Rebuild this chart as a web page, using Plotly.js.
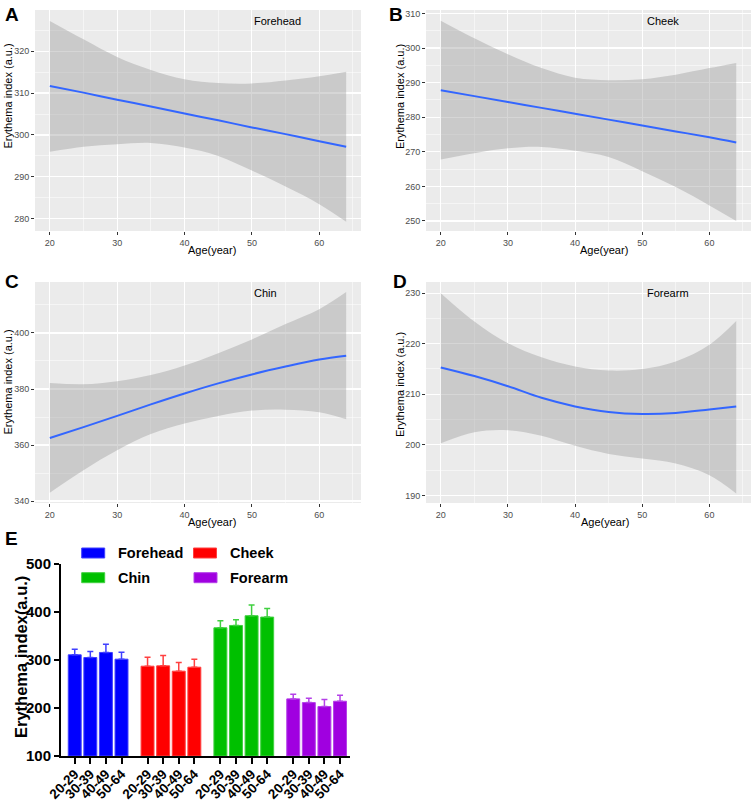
<!DOCTYPE html>
<html>
<head>
<meta charset="utf-8">
<script src="https://cdn.plot.ly/plotly-3.0.1.min.js"></script>
<style>html,body{margin:0;padding:0;background:#fff;}#chart{width:753px;height:801px;}</style>
</head>
<body>
<div id="chart"></div>
<script>
// ---------- Panels A-D: smoothed fits with 95% CI ----------
const ageA = [20, 25, 30, 35, 40, 45, 50, 55, 60, 64];
const fitA = [311.7, 310.1, 308.4, 306.8, 305.1, 303.5, 301.8, 300.2, 298.5, 297.2];
const upA  = [327.2, 322.8, 318.6, 315.5, 313.3, 312.4, 312.3, 313.0, 314.0, 315.1];
const loA  = [296.0, 297.2, 297.8, 298.1, 297.0, 295.0, 291.5, 287.7, 283.5, 279.3];

const ageB = [20, 25, 30, 35, 40, 45, 50, 55, 60, 64];
const fitB = [287.8, 286.1, 284.4, 282.7, 281.0, 279.3, 277.6, 275.9, 274.2, 272.7];
const upB  = [307.9, 302.8, 298.2, 294.2, 291.4, 290.7, 291.0, 292.3, 294.2, 295.7];
const loB  = [267.8, 269.6, 271.0, 271.4, 270.3, 268.5, 264.4, 259.8, 254.5, 250.0];

const ageC = [20, 25, 30, 35, 40, 45, 50, 55, 60, 64];
const fitC = [362.5, 366.4, 370.4, 374.5, 378.4, 382.0, 385.2, 388.0, 390.5, 391.9];
const upC  = [382.1, 381.7, 382.8, 385.0, 388.4, 392.8, 397.7, 403.2, 408.5, 414.6];
const loC  = [343.0, 351.0, 358.1, 363.9, 367.7, 370.4, 372.3, 372.6, 371.7, 369.2];

const ageD = [20, 25, 30, 35, 40, 45, 50, 55, 60, 64];
const fitD = [215.3, 213.6, 211.6, 209.3, 207.6, 206.5, 206.1, 206.3, 207.0, 207.6];
const upD  = [230.0, 224.4, 220.1, 217.3, 215.5, 214.7, 215.0, 216.5, 219.8, 224.5];
const loD  = [200.3, 202.5, 202.9, 201.8, 199.8, 198.2, 197.3, 196.3, 194.0, 190.4];

// ---------- Panel E: bar chart ----------
const ageGroups = ['20-29', '30-39', '40-49', '50-64'];
const sites = ['Forehead', 'Cheek', 'Chin', 'Forearm'];
const meanForehead = [310.8, 305.2, 315.7, 301.7];
const errForehead  = [11.8, 12.5, 17.3, 14.6];
const meanCheek    = [287.1, 287.8, 276.7, 285.0];
const errCheek     = [18.8, 21.6, 18.1, 16.7];
const meanChin     = [367.1, 372.0, 392.2, 389.4];
const errChin      = [14.6, 11.8, 22.2, 18.1];
const meanForearm  = [219.0, 211.3, 203.0, 214.1];
const errForearm   = [9.7, 9.0, 14.6, 12.5];

const siteColors = ['#0000FF', '#FF0000', '#00C000', '#A000E0'];
const siteEdge   = ['#4040FF', '#FF4040', '#40D040', '#B440E8'];

const W = 753, H = 801;
const px = x => x / W;
const py = y => 1 - y / H;

const ribbonFill = 'rgba(153,153,153,0.4)';
const lineBlue = '#3366FF';
const FONT = 'Liberation Sans, Arial, sans-serif';

const traces = [];
function addPanel(ages, fit, up, lo, xa, ya) {
  traces.push({x: ages, y: lo, xaxis: xa, yaxis: ya, mode: 'lines', line: {width: 0, shape: 'spline'}, hoverinfo: 'skip', showlegend: false});
  traces.push({x: ages, y: up, xaxis: xa, yaxis: ya, mode: 'lines', fill: 'tonexty', fillcolor: ribbonFill, line: {width: 0, shape: 'spline'}, hoverinfo: 'skip', showlegend: false});
  traces.push({x: ages, y: fit, xaxis: xa, yaxis: ya, mode: 'lines', line: {color: lineBlue, width: 2, shape: 'spline'}, showlegend: false});
}
addPanel(ageA, fitA, upA, loA, 'x', 'y');
addPanel(ageB, fitB, upB, loB, 'x2', 'y2');
addPanel(ageC, fitC, upC, loC, 'x3', 'y3');
addPanel(ageD, fitD, upD, loD, 'x4', 'y4');

const means = [meanForehead, meanCheek, meanChin, meanForearm];
const errs = [errForehead, errCheek, errChin, errForearm];
const groupStep = 4.67;
const tickPos = [], tickTxt = [];
sites.forEach((s, g) => {
  const xs = ageGroups.map((a, i) => g * groupStep + i);
  xs.forEach((v, i) => { tickPos.push(v); tickTxt.push(ageGroups[i]); });
  traces.push({
    type: 'bar', x: xs, y: means[g].map(v => v - 100), base: 100, xaxis: 'x5', yaxis: 'y5',
    width: 0.83, name: s, showlegend: false,
    marker: {color: siteColors[g], line: {color: siteEdge[g], width: 1}},
    error_y: {type: 'data', symmetric: false, array: errs[g], arrayminus: errs[g].map(() => 0), color: siteEdge[g], thickness: 1.5, width: 3}
  });
});

function ggX(dom) {
  return {domain: dom, range: [17.8, 66.2], tickvals: [20, 30, 40, 50, 60], showgrid: true, gridcolor: '#FFFFFF', gridwidth: 1.1,
    minor: {tickvals: [15, 25, 35, 45, 55, 65], showgrid: true, gridcolor: '#FFFFFF', gridwidth: 0.5, ticks: ''},
    ticks: 'outside', ticklen: 3, tickcolor: '#333333', tickwidth: 1, tickfont: {family: FONT, size: 9, color: '#4D4D4D'},
    zeroline: false, showline: false, fixedrange: true};
}
function ggY(dom, range, major, minor) {
  return {domain: dom, range: range, tickvals: major, showgrid: true, gridcolor: '#FFFFFF', gridwidth: 1.1,
    minor: {tickvals: minor, showgrid: true, gridcolor: '#FFFFFF', gridwidth: 0.5, ticks: ''},
    ticks: 'outside', ticklen: 3, tickcolor: '#333333', tickwidth: 1, tickfont: {family: FONT, size: 9, color: '#4D4D4D'},
    zeroline: false, showline: false, fixedrange: true};
}

const domXL = [px(35), px(361)], domXR = [px(426), px(751)];
const domYT = [py(231), py(10)], domYM = [py(503), py(282)];

const ann = [];
function txt(x, y, t, size, opts) {
  ann.push(Object.assign({xref: 'paper', yref: 'paper', x: px(x), y: py(y), text: t, showarrow: false,
    xanchor: 'center', yanchor: 'middle', font: {family: FONT, size: size, color: '#000'}}, opts || {}));
}
// panel letters
txt(3, 14, '<b>A</b>', 19, {xanchor: 'left'});
txt(387, 14, '<b>B</b>', 19, {xanchor: 'left'});
txt(3, 281, '<b>C</b>', 19, {xanchor: 'left'});
txt(391, 281, '<b>D</b>', 19, {xanchor: 'left'});
txt(3, 538, '<b>E</b>', 19, {xanchor: 'left'});
// panel site labels
txt(252, 21.5, 'Forehead', 11, {xanchor: 'left'});
txt(645, 21.5, 'Cheek', 11, {xanchor: 'left'});
txt(252, 293, 'Chin', 11, {xanchor: 'left'});
txt(645, 293, 'Forearm', 11, {xanchor: 'left'});
// axis titles
txt(212, 249.5, 'Age(year)', 11);
txt(604, 249.5, 'Age(year)', 11);
txt(212, 522, 'Age(year)', 11);
txt(604.5, 522, 'Age(year)', 11);
txt(7.5, 96, 'Erythema index (a.u.)', 11, {textangle: -90});
txt(400, 97, 'Erythema index (a.u.)', 11, {textangle: -90});
txt(7.5, 382, 'Erythema index (a.u.)', 11, {textangle: -90});
txt(400, 385, 'Erythema index (a.u.)', 11, {textangle: -90});
txt(21, 657, '<b>Erythema index(a.u.)</b>', 16.5, {textangle: -90});

// grey panel backgrounds for ggplot panels A-D
const shapes = [];
[['x', 'y'], ['x2', 'y2'], ['x3', 'y3'], ['x4', 'y4']].forEach(([xa, ya]) => {
  shapes.push({type: 'rect', xref: xa + ' domain', yref: ya + ' domain', x0: 0, x1: 1, y0: 0, y1: 1,
    fillcolor: '#EBEBEB', line: {width: 0}, layer: 'below'});
});
// legend for panel E
const legendPos = [[81.7, 553], [193.5, 553], [81.7, 577.7], [194, 577.7]];
sites.forEach((s, g) => {
  const [lx, ly] = legendPos[g];
  shapes.push({type: 'rect', xref: 'paper', yref: 'paper', x0: px(lx), x1: px(lx + 23), y0: py(ly + 5), y1: py(ly - 5),
    fillcolor: siteColors[g], line: {color: siteEdge[g], width: 1}});
  txt(lx + 34, ly, '<b>' + s + '</b>', 14.5, {xanchor: 'left'});
});

const layout = {
  width: W, height: H, margin: {l: 0, r: 0, t: 0, b: 0}, paper_bgcolor: '#FFFFFF', plot_bgcolor: 'rgba(0,0,0,0)',
  showlegend: false, font: {family: FONT},
  xaxis: Object.assign(ggX(domXL), {anchor: 'y'}),
  yaxis: Object.assign(ggY(domYT, [277.1, 329.8], [280, 290, 300, 310, 320], [275, 285, 295, 305, 315, 325]), {anchor: 'x'}),
  xaxis2: Object.assign(ggX(domXR), {anchor: 'y2'}),
  yaxis2: Object.assign(ggY(domYT, [247.1, 311], [250, 260, 270, 280, 290, 300, 310], [255, 265, 275, 285, 295, 305]), {anchor: 'x2'}),
  xaxis3: Object.assign(ggX(domXL), {anchor: 'y3'}),
  yaxis3: Object.assign(ggY(domYM, [339.3, 418.2], [340, 360, 380, 400], [350, 370, 390, 410]), {anchor: 'x3'}),
  xaxis4: Object.assign(ggX(domXR), {anchor: 'y4'}),
  yaxis4: Object.assign(ggY(domYM, [188.5, 232.2], [190, 200, 210, 220, 230], [195, 205, 215, 225]), {anchor: 'x4'}),
  xaxis5: {domain: [px(61), px(350)], anchor: 'y5', range: [-0.88, 17.65], tickvals: tickPos, ticktext: tickTxt, tickangle: -45,
    showline: true, linecolor: '#000', linewidth: 2, ticks: 'outside', ticklen: 6, tickwidth: 2, tickcolor: '#000',
    ticklabelstandoff: -3,
    tickfont: {family: FONT, size: 13.5, color: '#000', weight: 'bold'}, showgrid: false, zeroline: false, fixedrange: true},
  yaxis5: {domain: [py(756), py(564)], anchor: 'x5', range: [100, 500], tickvals: [100, 200, 300, 400, 500],
    showline: true, linecolor: '#000', linewidth: 2, ticks: 'outside', ticklen: 5, tickwidth: 2, tickcolor: '#000',
    tickfont: {family: FONT, size: 15, color: '#000', weight: 'bold'}, showgrid: false, zeroline: false, fixedrange: true},
  annotations: ann, shapes: shapes
};

Plotly.newPlot('chart', traces, layout, {staticPlot: true, displayModeBar: false});
</script>
</body>
</html>
